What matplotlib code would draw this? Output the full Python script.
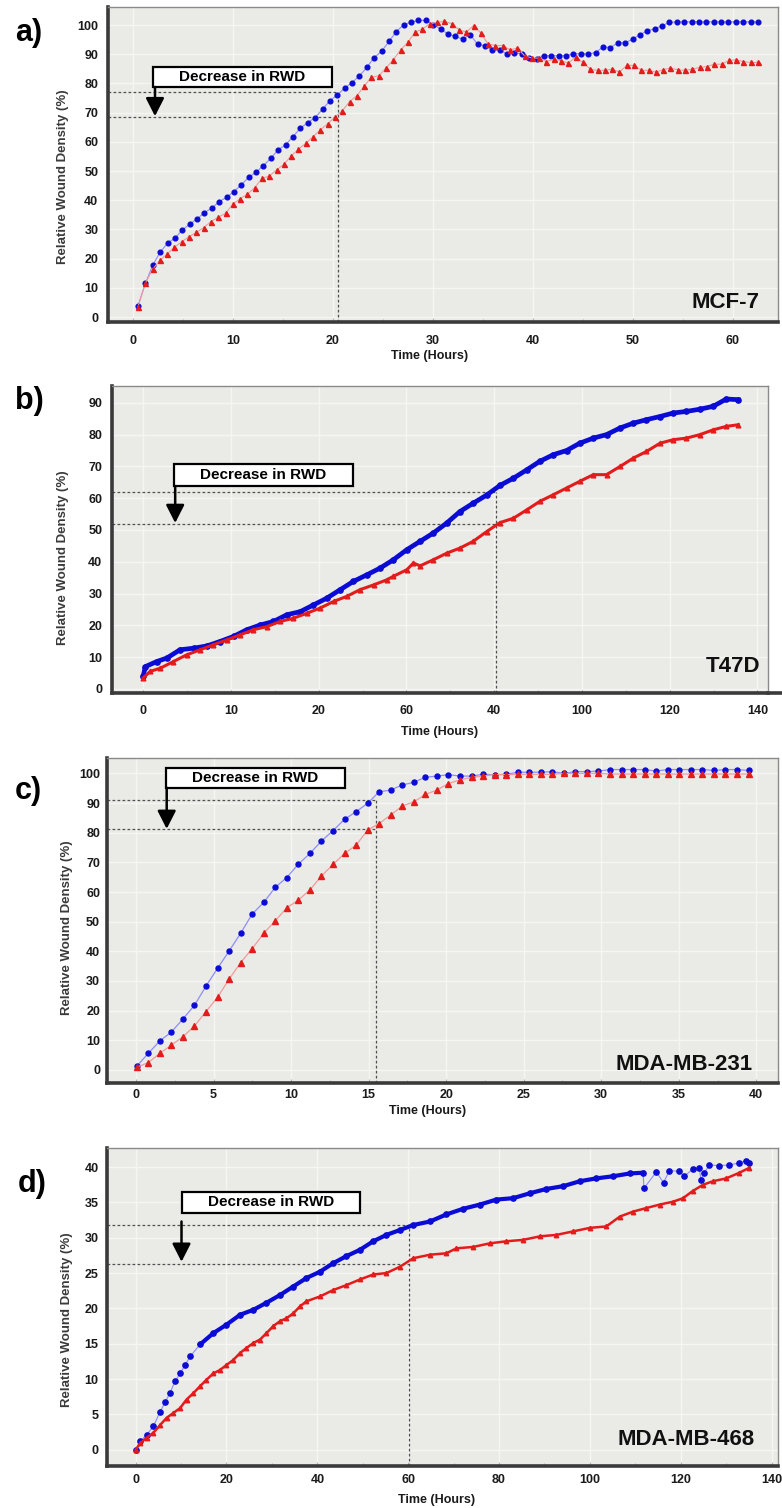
import numpy as np
import matplotlib
matplotlib.use("Agg")
import matplotlib.pyplot as plt
from matplotlib.patches import Rectangle
from matplotlib.ticker import AutoMinorLocator

plt.rcParams['font.family'] = ['Liberation Sans', 'DejaVu Sans']

W, H = 782, 1508

# ---------------- data ----------------
# a) MCF-7 (readings every ~0.74 h)
a_blue = [3.9, 11.5, 17.8, 22.2, 25.3, 27.0, 29.8, 31.8, 33.6, 35.8, 37.3, 39.5, 41.0, 43.0,
          45.3, 47.9, 49.6, 51.9, 54.4, 57.3, 59.0, 61.8, 64.7, 66.6, 68.3, 71.2, 74.1, 76.1,
          78.4, 80.3, 82.6, 85.5, 88.9, 91.0, 94.4, 97.8, 100.1, 101.0, 101.6, 101.6, 100.1,
          98.7, 96.9, 96.1, 95.2, 96.7, 93.5, 92.9, 91.5, 91.3, 90.2, 90.4, 90.2, 88.9, 88.3,
          89.5, 89.5, 89.5, 89.5, 90.2, 90.2, 90.1, 90.6, 92.5, 92.3, 93.9, 93.9, 95.2, 96.7,
          98.1, 98.7, 99.8, 100.9, 101.1, 101.1, 101.1, 101.1, 101.1, 101.1, 101.1, 101.1,
          101.1, 101.1, 101.1, 101.1]
a_red = [3.5, 11.5, 16.3, 19.5, 21.6, 23.9, 25.8, 27.5, 29.0, 30.6, 32.7, 34.2, 35.5, 38.7,
         40.5, 42.1, 44.3, 47.5, 48.3, 50.4, 52.3, 55.2, 57.5, 59.5, 61.8, 64.1, 66.2, 68.5,
         70.6, 73.8, 75.8, 79.0, 82.2, 82.6, 85.3, 88.1, 91.5, 94.1, 97.6, 98.6, 100.5, 100.9,
         101.3, 100.5, 98.4, 97.6, 99.8, 97.3, 93.5, 93.0, 93.0, 91.5, 92.1, 89.5, 88.7, 88.7,
         87.5, 88.3, 87.8, 87.0, 89.0, 87.2, 84.9, 84.5, 84.5, 84.9, 83.9, 86.2, 86.2, 84.5,
         84.5, 83.9, 84.7, 85.3, 84.7, 84.5, 84.9, 85.5, 85.8, 86.6, 86.6, 87.9, 88.1, 87.5,
         87.2, 87.2]
a_start, a_end = 0.5, 62.5

# b) T47D
b_blue_t = [0, 0.5, 3.1, 5.4, 8.4, 11.5, 14.5, 17.5, 20.6, 23.6, 26.7, 29.7, 32.7, 35.8, 38.8,
            41.8, 44.9, 47.9, 51.0, 54.0, 57.0, 60.1, 63.1, 66.1, 69.2, 72.2, 75.2, 78.3, 81.3,
            84.4, 87.4, 90.4, 93.5, 96.5, 99.5, 102.6, 105.6, 108.7, 111.7, 114.7, 117.8, 120.8,
            123.8, 126.9, 129.9, 132.9, 135.6]
b_blue = [3.9, 7.0, 8.6, 9.7, 12.3, 12.8, 13.5, 14.9, 16.5, 18.6, 20.1, 21.2, 23.3, 24.3, 26.4,
          28.5, 31.2, 33.8, 35.9, 38.0, 40.6, 43.8, 46.4, 49.0, 52.2, 55.8, 58.4, 61.0, 64.0,
          66.3, 68.9, 71.6, 73.7, 75.0, 77.3, 78.9, 80.0, 82.1, 83.6, 84.7, 85.7, 86.8, 87.3,
          88.0, 88.9, 91.2, 91.0]
b_red_t = [0, 1.6, 3.9, 6.9, 9.9, 13.0, 16.0, 19.1, 22.1, 25.1, 28.2, 31.2, 34.2, 37.3, 40.3,
           43.4, 46.4, 49.4, 52.5, 55.5, 57.0, 60.1, 61.6, 63.1, 66.1, 69.2, 72.2, 75.2, 78.3,
           81.3, 84.4, 87.4, 90.4, 93.5, 96.5, 99.5, 102.6, 105.6, 108.7, 111.7, 114.7, 117.8,
           120.8, 123.8, 126.9, 129.9, 132.9, 135.6]
b_red = [3.4, 5.5, 6.5, 8.6, 10.7, 12.3, 13.9, 15.4, 17.0, 18.6, 19.6, 21.2, 22.2, 23.8, 25.4,
         27.5, 29.1, 31.2, 32.7, 34.3, 35.4, 37.5, 39.6, 38.7, 40.6, 42.7, 44.3, 46.4, 49.5,
         52.3, 53.7, 56.3, 59.0, 61.1, 63.2, 65.3, 67.4, 67.4, 70.0, 72.6, 74.7, 77.3, 78.4,
         78.9, 80.0, 81.5, 82.6, 83.1]
b_tick_labels = ['0', '10', '20', '60', '40', '100', '120', '140']

# c) MDA-MB-231 (readings every ~0.75 h)
c_blue = [1.3, 5.6, 9.8, 12.8, 17.2, 21.8, 28.3, 34.3, 40.1, 46.1, 52.6, 56.5, 61.6, 64.9, 69.4,
          73.0, 77.2, 80.7, 84.5, 87.1, 89.9, 93.8, 94.4, 96.1, 97.0, 98.7, 99.1, 99.6, 99.1,
          99.1, 99.7, 99.6, 99.7, 100.4, 100.4, 100.4, 100.6, 100.0, 100.6, 100.6, 100.8, 101.3,
          101.3, 101.3, 101.3, 100.8, 101.3, 101.3, 101.3, 101.3, 101.0, 101.3, 101.3, 101.0]
c_red = [0.9, 2.5, 5.6, 8.4, 11.2, 14.8, 19.7, 24.5, 30.6, 36.2, 40.9, 46.1, 50.3, 54.7, 57.3,
         60.7, 65.4, 69.3, 73.0, 75.8, 80.9, 83.1, 86.0, 89.0, 90.4, 92.9, 94.4, 96.6, 97.8,
         98.7, 99.1, 99.6, 99.6, 99.7, 99.7, 99.7, 99.7, 100.0, 100.0, 100.0, 100.0, 99.8, 99.8,
         99.8, 99.8, 99.8, 99.8, 99.8, 99.8, 99.8, 99.8, 99.8, 99.8, 99.8]
c_start, c_end = 0.05, 39.5

# d) MDA-MB-468
d_blue_t = [0, 1, 2.4, 3.9, 5.4, 6.5, 7.6, 8.7, 9.8, 10.9, 12.0, 14.2, 17.1, 20.0, 23.0, 25.9,
            28.8, 31.8, 34.7, 37.6, 40.6, 43.5, 46.4, 49.4, 52.3, 55.2, 58.2, 61.1, 64.8, 68.4,
            72.1, 75.8, 79.4, 83.1, 86.8, 90.4, 94.1, 97.8, 101.4, 105.1, 108.8, 111.7, 111.9,
            114.6, 116.2, 117.5, 119.7, 120.8, 122.6, 124.1, 124.4, 125.2, 126.3, 128.5, 130.7,
            132.9, 134.4, 135.1]
d_blue = [0, 1.2, 2.1, 3.3, 5.4, 6.7, 8.1, 9.7, 10.8, 12.0, 13.2, 14.9, 16.5, 17.7, 19.1, 19.8,
          20.8, 21.9, 23.1, 24.3, 25.2, 26.4, 27.4, 28.3, 29.5, 30.4, 31.1, 31.8, 32.3, 33.3,
          34.1, 34.7, 35.4, 35.6, 36.3, 36.9, 37.3, 38.0, 38.4, 38.7, 39.1, 39.2, 37.0, 39.3,
          37.8, 39.5, 39.4, 38.7, 39.7, 39.9, 38.2, 39.2, 40.3, 40.2, 40.3, 40.6, 40.9, 40.6]
d_red_t = [0, 1, 2.4, 3.9, 5.4, 6.8, 8.3, 9.8, 11.2, 12.7, 14.2, 15.6, 17.1, 18.6, 20.0, 21.5,
           23.0, 24.4, 25.9, 27.4, 28.8, 30.3, 31.8, 33.2, 34.7, 36.2, 37.6, 40.6, 43.5, 46.4,
           49.4, 52.3, 55.2, 58.2, 61.1, 64.8, 68.4, 70.6, 74.3, 77.9, 81.6, 85.3, 89.0, 92.6,
           96.3, 100.0, 103.6, 106.6, 109.5, 112.4, 115.4, 118.3, 120.5, 122.6, 124.9, 127.1,
           130.0, 132.9, 135.1]
d_red = [0, 0.9, 1.7, 2.4, 3.5, 4.5, 5.2, 5.9, 7.1, 8.0, 9.0, 9.9, 10.8, 11.3, 12.0, 12.7, 13.7,
         14.4, 15.1, 15.6, 16.5, 17.5, 18.2, 18.6, 19.3, 20.3, 21.0, 21.7, 22.6, 23.3, 24.1,
         24.8, 25.0, 25.9, 27.1, 27.6, 27.8, 28.5, 28.7, 29.2, 29.5, 29.7, 30.2, 30.4, 30.9,
         31.4, 31.6, 33.0, 33.7, 34.2, 34.7, 35.1, 35.6, 36.6, 37.5, 38.0, 38.4, 39.2, 39.9]

cell_lines = ['MCF-7', 'T47D', 'MDA-MB-231', 'MDA-MB-468']
panel_letters = ['a)', 'b)', 'c)', 'd)']
box_text = 'Decrease in RWD'
xlabel = 'Time (Hours)'
ylabel = 'Relative Wound Density (%)'

# ---------------- figure ----------------
fig = plt.figure(figsize=(W / 100, H / 100), dpi=100)

BLUE = '#0b0bd6'
RED = '#e31b1b'
BLUE_LINE = '#8d8dfa'
RED_LINE = '#f29a9a'


def add_axes_px(l, r, t, b):
    return fig.add_axes([l / W, 1 - b / H, (r - l) / W, (b - t) / H])


def style(ax, xpad, ypad):
    ax.set_facecolor('#eaeae7')
    for s in ['left', 'bottom']:
        ax.spines[s].set_linewidth(2.6)
        ax.spines[s].set_color('#3a3a3a')
    for s in ['top', 'right']:
        ax.spines[s].set_linewidth(1.0)
        ax.spines[s].set_color('#8a8a8a')
    ax.grid(True, color='#f5f5f3', lw=1.0)
    ax.set_axisbelow(True)
    ax.xaxis.set_minor_locator(AutoMinorLocator(2))
    ax.tick_params(axis='x', which='major', direction='in', length=3, color='#b0b0b0',
                   width=0.8, labelsize=9, pad=xpad)
    ax.tick_params(axis='x', which='minor', direction='in', length=2, color='#b8b8b8',
                   width=0.8)
    ax.tick_params(axis='y', which='major', length=0, labelsize=9, pad=ypad)
    for lab in ax.get_xticklabels() + ax.get_yticklabels():
        lab.set_fontweight('bold')
        lab.set_color('#1a1a1a')


def px_to_axes(ax_px, x, y):
    l, r, t, b = ax_px
    return (x - l) / (r - l), (b - y) / (b - t)


def annotate(ax, box, arrow_x, arrow_y0, arrow_y1, vx, yhi, ylo):
    x0, x1 = ax.get_xlim()
    y0, y1 = ax.get_ylim()
    dash = dict(ls=(0, (2.2, 1.8)), color='#505050', lw=0.9, zorder=2)
    ax.plot([x0, vx], [yhi, yhi], **dash)
    ax.plot([x0, vx], [ylo, ylo], **dash)
    ax.plot([vx, vx], [y0, yhi], **dash)
    bx0, bx1, by0, by1 = box
    ax.add_patch(Rectangle((bx0, by0), bx1 - bx0, by1 - by0, fc='white', ec='black',
                           lw=1.6, zorder=6))
    ax.text((bx0 + bx1) / 2, (by0 + by1) / 2, box_text, ha='center', va='center',
            fontsize=11, fontweight='bold', zorder=7)
    ax.annotate('', xy=(arrow_x, arrow_y1), xytext=(arrow_x, arrow_y0),
                arrowprops=dict(arrowstyle='-|>,head_length=0.55,head_width=0.28',
                                mutation_scale=20, lw=1.8, color='black',
                                shrinkA=0, shrinkB=0), zorder=7)


panels = [
    dict(px=(108, 778, 7, 322), xlim=(-2.5, 64.5), ylim=(-1.7, 106.2),
         xticks=np.arange(0, 61, 10), yticks=np.arange(0, 101, 10), xtl=None,
         xpad=9, ypad=7, xlab=(430, 356), ylab=(63, 177), cell=(760, 308),
         letter=(15, 33)),
    dict(px=(112, 768, 386, 693), xlim=(-7.1, 142.4), ylim=(-1.3, 95.3),
         xticks=np.arange(0, 141, 20), yticks=np.arange(0, 91, 10), xtl=b_tick_labels,
         xpad=9, ypad=7, xlab=(440, 732), ylab=(63, 558), cell=(760, 672),
         letter=(15, 401)),
    dict(px=(107, 778, 758, 1083), xlim=(-1.87, 41.4), ylim=(-4.4, 105.2),
         xticks=np.arange(0, 41, 5), yticks=np.arange(0, 101, 10), xtl=None,
         xpad=4, ypad=5, xlab=(428, 1111), ylab=(67, 928), cell=(753, 1070),
         letter=(15, 791)),
    dict(px=(107, 778, 1148, 1466), xlim=(-6.3, 141.4), ylim=(-2.3, 42.7),
         xticks=np.arange(0, 141, 20), yticks=np.arange(0, 41, 5), xtl=None,
         xpad=5.5, ypad=6, xlab=(437, 1500), ylab=(67, 1320), cell=(755, 1445),
         letter=(18, 1184)),
]

axes = []
for i, p in enumerate(panels):
    ax = add_axes_px(*p['px'])
    ax.set_xlim(*p['xlim'])
    ax.set_ylim(*p['ylim'])
    ax.set_xticks(p['xticks'])
    if p['xtl'] is not None:
        ax.set_xticklabels(p['xtl'])
    ax.set_yticks(p['yticks'])
    style(ax, p['xpad'], p['ypad'])
    ax.set_xlabel(xlabel, fontsize=9, fontweight='bold', color='#1a1a1a')
    ax.xaxis.set_label_coords(*px_to_axes(p['px'], *p['xlab']))
    ax.xaxis.label.set_va('center')
    ax.set_ylabel(ylabel, fontsize=9.5, fontweight='bold', color='#3a3a3a')
    ax.yaxis.set_label_coords(*px_to_axes(p['px'], *p['ylab']))
    ax.yaxis.label.set_va('center')
    cx, cy = px_to_axes(p['px'], *p['cell'])
    ax.text(cx, cy, cell_lines[i], transform=ax.transAxes, ha='right', va='baseline',
            fontsize=16, fontweight='bold', color='#111111', zorder=8)
    lx, ly = p['letter']
    fig.text(lx / W, 1 - ly / H, panel_letters[i], fontsize=22, fontweight='bold',
             ha='left', va='center')
    axes.append(ax)

# a) MCF-7
ax = axes[0]
ax.plot(np.linspace(a_start, a_end, len(a_blue)), a_blue, color=BLUE_LINE, lw=0.8,
        marker='o', ms=3.4, mfc=BLUE, mec=BLUE, zorder=3)
ax.plot(np.linspace(a_start, a_end, len(a_red)), a_red, color=RED_LINE, lw=0.8,
        marker='^', ms=3.6, mfc=RED, mec=RED, zorder=4)
annotate(ax, (2.0, 19.9, 78.8, 85.6), 2.2, 78.8, 68.8, 20.5, 77.0, 68.5)

# b) T47D
ax = axes[1]
ax.plot(b_blue_t, b_blue, color=BLUE, lw=3.4, marker='o', ms=3.8, mfc=BLUE, mec=BLUE,
        zorder=3, solid_joinstyle='round')
ax.plot(b_red_t, b_red, color=RED, lw=2.2, marker='^', ms=3.4, mfc=RED, mec=RED,
        zorder=4, solid_joinstyle='round')
annotate(ax, (7.1, 47.8, 63.8, 70.8), 7.3, 63.8, 52.2, 80.4, 61.9, 51.8)
ax.plot([1, 1.02], [0, 0], transform=ax.transAxes, clip_on=False, color='#3a3a3a', lw=2.6)

# c) MDA-MB-231
ax = axes[2]
ax.plot(np.linspace(c_start, c_end, len(c_blue)), c_blue, color=BLUE_LINE, lw=0.9,
        marker='o', ms=3.6, mfc=BLUE, mec=BLUE, zorder=3)
ax.plot(np.linspace(c_start, c_end, len(c_red)), c_red, color=RED_LINE, lw=0.9,
        marker='^', ms=3.8, mfc=RED, mec=RED, zorder=4)
annotate(ax, (1.93, 13.47, 95.2, 101.7), 1.98, 95.2, 81.3, 15.45, 91.0, 81.1)

# d) MDA-MB-468
ax = axes[3]
ax.plot(d_blue_t, d_blue, color=BLUE_LINE, lw=0.8, marker='o', ms=3.8, mfc=BLUE, mec=BLUE,
        zorder=3)
ax.plot(d_blue_t[11:42], d_blue[11:42], color=BLUE, lw=3.0, zorder=3,
        solid_joinstyle='round')
ax.plot(d_red_t, d_red, color=RED, lw=1.8, marker='^', ms=3.2, mfc=RED, mec=RED, zorder=4,
        solid_joinstyle='round')
annotate(ax, (10.1, 49.5, 33.5, 36.5), 10.1, 32.3, 26.6, 60.2, 31.8, 26.3)

fig.savefig('out.png', dpi=100, facecolor='white')
